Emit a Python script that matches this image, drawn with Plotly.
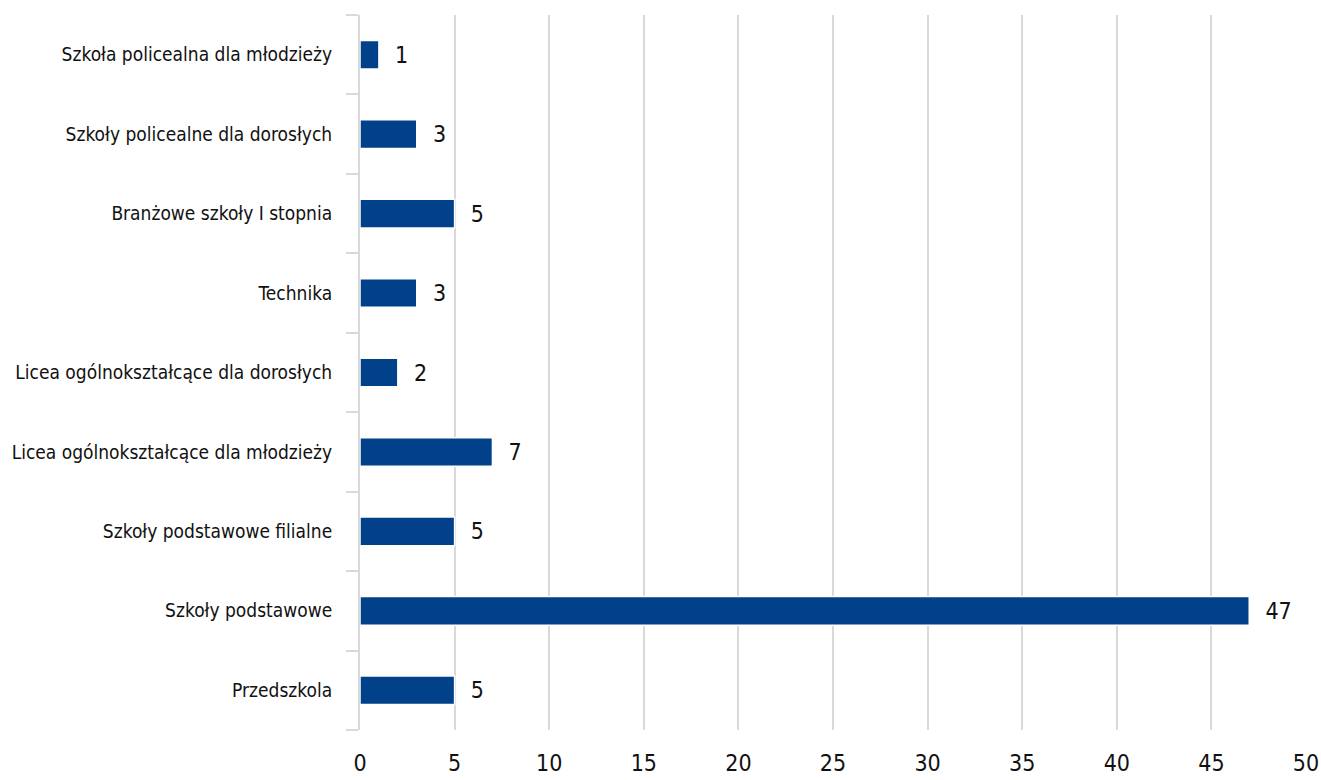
import plotly.graph_objects as go

categories = [
    "Przedszkola",
    "Szkoły podstawowe",
    "Szkoły podstawowe filialne",
    "Licea ogólnokształcące dla młodzieży",
    "Licea ogólnokształcące dla dorosłych",
    "Technika",
    "Branżowe szkoły I stopnia",
    "Szkoły policealne dla dorosłych",
    "Szkoła policealna dla młodzieży",
]
values = [5, 47, 5, 7, 2, 3, 5, 3, 1]
x_ticks = list(range(0, 55, 5))

FONT = "DejaVu Sans Condensed, Roboto, sans-serif"

fig = go.Figure(
    go.Bar(
        x=values,
        y=categories,
        orientation="h",
        marker=dict(color="#00418A", line=dict(color="white", width=1.5)),
        text=[str(v) for v in values],
        texttemplate="  %{text}",
        textposition="outside",
        textfont=dict(family=FONT, size=23, color="#111111"),
        cliponaxis=False,
        width=0.36,
    )
)

fig.update_layout(
    width=1321,
    height=780,
    margin=dict(l=360, r=15, t=15, b=50),
    paper_bgcolor="white",
    plot_bgcolor="white",
    font=dict(family=FONT, color="#111111"),
    showlegend=False,
    xaxis=dict(
        range=[0, 50],
        tickvals=x_ticks,
        automargin=False,
        showgrid=True,
        gridcolor="#d9d9d9",
        gridwidth=2,
        zeroline=False,
        showline=False,
        ticks="outside",
        ticklen=12,
        tickcolor="rgba(0,0,0,0)",
        tickfont=dict(family=FONT, size=23, color="#111111"),
    ),
    yaxis=dict(
        type="category",
        categoryorder="array",
        categoryarray=categories,
        automargin=False,
        showgrid=False,
        zeroline=False,
        showline=True,
        linecolor="#d9d9d9",
        linewidth=2,
        ticks="outside",
        tickson="boundaries",
        ticklen=12,
        tickwidth=2,
        tickcolor="#d9d9d9",
        ticklabelstandoff=22,
        tickfont=dict(family=FONT, size=19, color="#111111"),
    ),
)

fig.write_html(
    "out.html",
    config={"displayModeBar": False},
    post_script="document.body.style.margin='0';document.body.style.overflow='hidden';",
)
